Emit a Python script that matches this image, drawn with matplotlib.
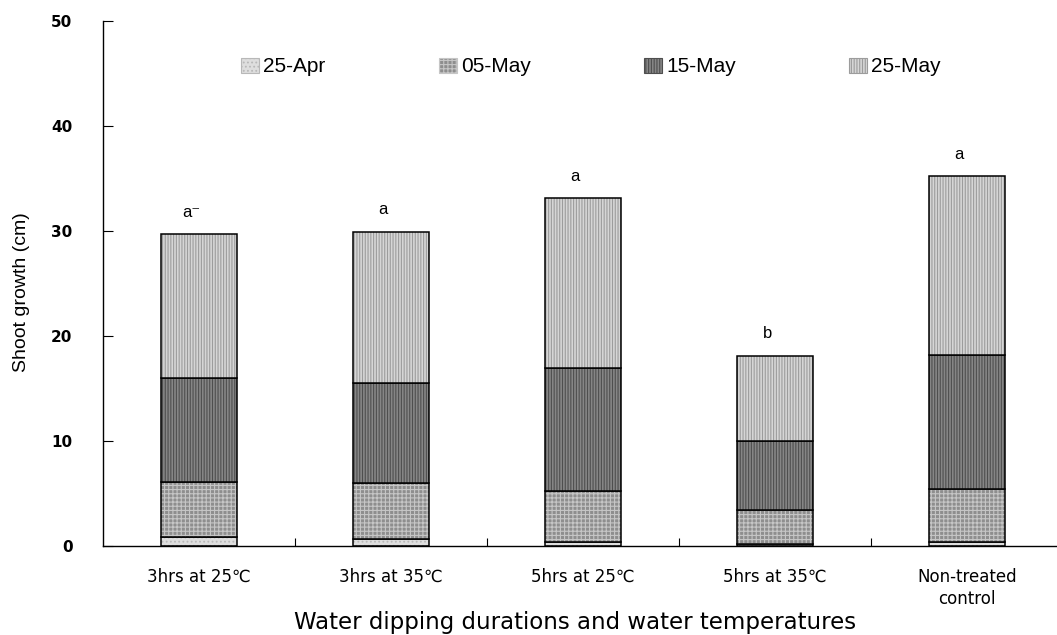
import numpy as np
import matplotlib
matplotlib.use("Agg")
import matplotlib.pyplot as plt

# treatments and the increment of shoot growth (cm) per measuring date
treatments = ["3hrs at 25\u2103", "3hrs at 35\u2103", "5hrs at 25\u2103",
              "5hrs at 35\u2103", "Non-treated\ncontrol"]
dates = ["25-Apr", "05-May", "15-May", "25-May"]
apr25 = [0.85, 0.7, 0.4, 0.2, 0.4]
may05 = [5.25, 5.3, 4.8, 3.2, 5.0]
may15 = [9.9, 9.5, 11.8, 6.6, 12.8]
may25 = [13.7, 14.4, 16.1, 8.1, 17.0]
letters = ["a\u207b", "a", "a", "b", "a"]

# fill styles: (face, hatch colour, hatch)
styles = [("#dedede", "#b8b8b8", "...."),
          ("#8e8e8e", "#c6c6c6", "++++"),
          ("#868686", "#4e4e4e", "||||||"),
          ("#d6d6d6", "#9c9c9c", "||||||")]

plt.rcParams["hatch.linewidth"] = 0.8
plt.rcParams["font.family"] = ["Liberation Sans", "DejaVu Sans"]

fig = plt.figure(figsize=(10.57, 6.35), dpi=100)
ax = fig.add_axes([103 / 1057, 1 - 546 / 635, 960 / 1057, 525 / 635])

x = np.arange(len(treatments))
width = 0.4
series = [apr25, may05, may15, may25]
bottom = np.zeros(len(treatments))
handles = []
for vals, (face, hcol, hatch), lab in zip(series, styles, dates):
    vals = np.array(vals)
    ax.bar(x, vals, width, bottom=bottom, color=face, linewidth=0)
    ax.bar(x, vals, width, bottom=bottom, facecolor="none",
           edgecolor=hcol, hatch=hatch, linewidth=0)
    ax.bar(x, vals, width, bottom=bottom, fill=False, edgecolor="black",
           linewidth=1.1)
    handles.append(plt.Rectangle((0, 0), 1, 1, facecolor=face, edgecolor=hcol,
                                 hatch=hatch, linewidth=0.8))
    bottom += vals

for xi, top, lt in zip(x, bottom, letters):
    ax.text(xi - 0.04, top + 2.1, lt, ha="center", va="center", fontsize=12)

ax.set_xlim(-0.5, len(treatments) - 0.5)
ax.set_ylim(0, 50)
ax.set_yticks(range(0, 51, 10))
ax.tick_params(axis="y", direction="in", length=7, pad=22, labelsize=11)
for t in ax.get_yticklabels():
    t.set_fontfamily("DejaVu Sans")
    t.set_fontweight("bold")

ax.set_xticks(x + 0.5)
ax.set_xticklabels([])
ax.tick_params(axis="x", which="major", direction="in", length=6)
ax.set_xticks(x, minor=True)
ax.set_xticklabels(treatments, minor=True, fontsize=12,
                   family=["DejaVu Sans", "Noto Sans CJK KR"],
                   linespacing=1.3)
ax.tick_params(axis="x", which="minor", length=0, pad=16)

for s in ["top", "right"]:
    ax.spines[s].set_visible(False)
ax.spines["left"].set_linewidth(1.0)
ax.spines["bottom"].set_linewidth(1.0)

fig.text(22 / 1057, 1 - 292 / 635, "Shoot growth (cm)", rotation=90,
         ha="center", va="center", fontsize=14)
fig.text(575 / 1057, 1 - 622 / 635,
         "Water dipping durations and water temperatures",
         ha="center", va="center", fontsize=16.5, family="DejaVu Sans")

fig.legend(handles, dates, loc="center left",
           bbox_to_anchor=(233 / 1057, 1 - 67 / 635), ncol=4, frameon=False,
           fontsize=15, handlelength=0.85, handleheight=0.7,
           handletextpad=0.2, columnspacing=5.45, borderaxespad=0)

fig.savefig("out.png", dpi=100)
